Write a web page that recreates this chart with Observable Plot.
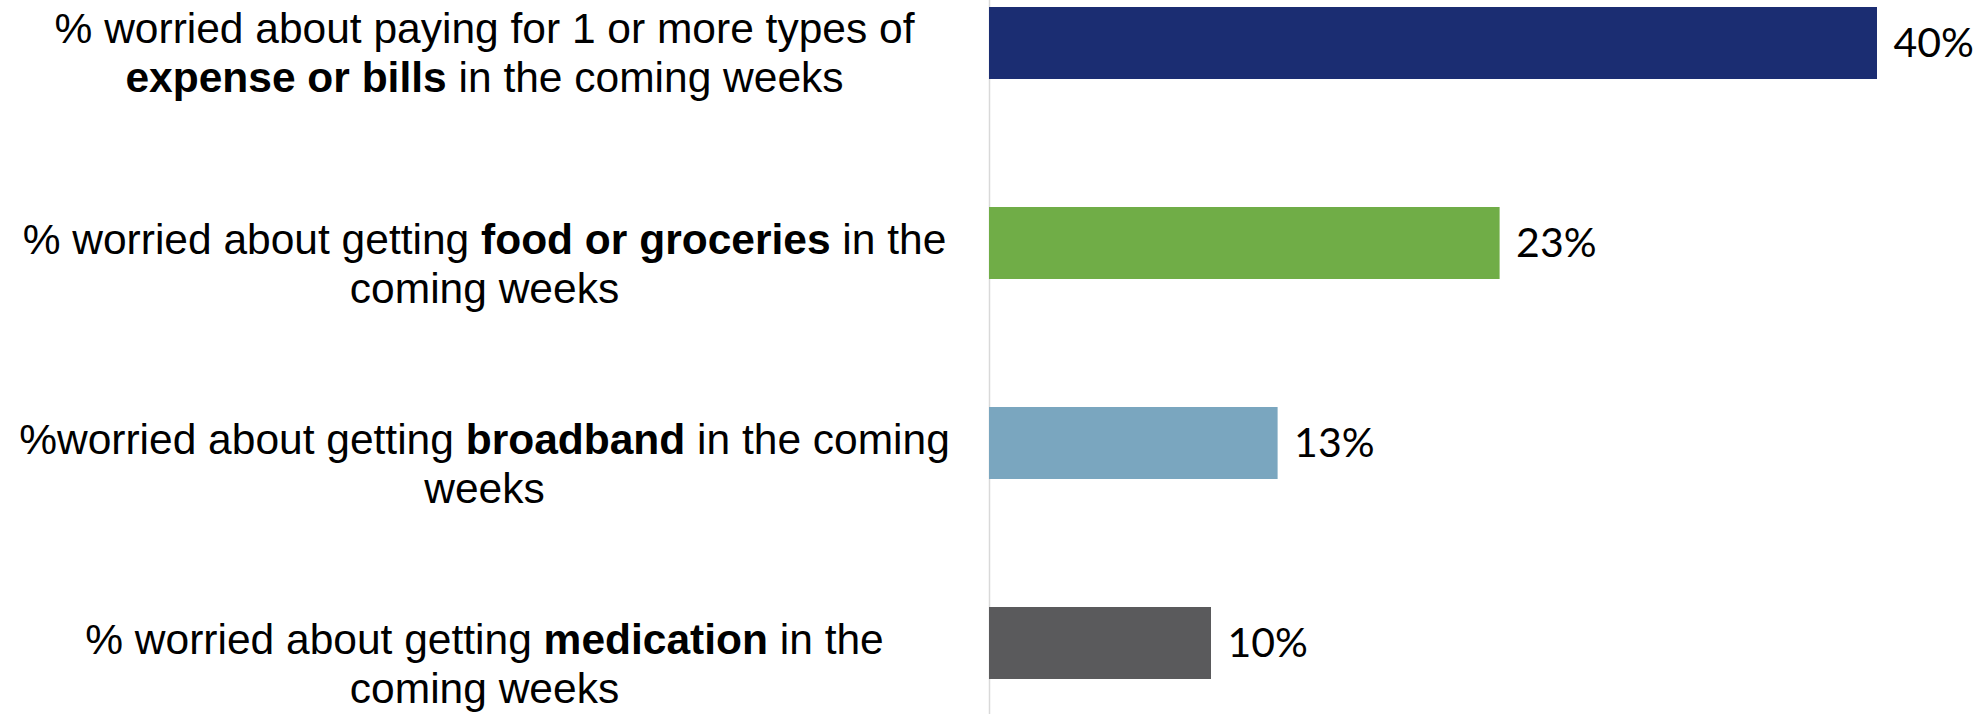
<!DOCTYPE html>
<html>
<head>
<meta charset="utf-8">
<script src="https://cdn.jsdelivr.net/npm/d3@7"></script>
<script src="https://cdn.jsdelivr.net/npm/@observablehq/plot@0.6"></script>
<style>
  html, body { margin: 0; padding: 0; background: #ffffff; }
  #chart svg { display: block; }
</style>
</head>
<body>
<div id="chart"></div>
<script>
// ---- data ----
const categories = ["expense or bills", "food or groceries", "broadband", "medication"];
const values = [40, 23, 13, 10];
const colors = ["#1b2d72", "#70ad47", "#7aa6bf", "#5a5a5c"];
const labelLines = [
  ["% worried about paying for 1 or more types of", "**expense or bills** in the coming weeks"],
  ["% worried about getting **food or groceries** in the", "coming weeks"],
  ["%worried about getting **broadband** in the coming", "weeks"],
  ["% worried about getting **medication** in the", "coming weeks"]
];

const bars = categories.map((c, i) => ({cat: c, value: values[i]}));
const lineRows = categories.flatMap((c, i) =>
  labelLines[i].map((t, k) => ({cat: c, line: k, raw: t, first: i === 0})));

const labelFont = "Liberation Sans, Arial, sans-serif";
const labelSize = 42.5;
const lineGap = 49;

function labelMark(filter, dy) {
  return Plot.text(lineRows.filter(filter), {
    y: "cat", text: "raw", frameAnchor: "left", dx: -505, dy,
    textAnchor: "middle", fontSize: labelSize, fontFamily: labelFont, fill: "#000"
  });
}

const chart = Plot.plot({
  width: 1980,
  height: 714,
  marginLeft: 989,
  marginRight: 103,
  marginTop: 6,
  marginBottom: 34.5,
  style: {background: "#ffffff", overflow: "visible"},
  x: {domain: [0, 40], axis: null},
  y: {domain: categories, axis: null, paddingInner: 0.64, paddingOuter: 0},
  color: {domain: categories, range: colors},
  marks: [
    Plot.ruleX([0], {stroke: "#d9d9d9", strokeWidth: 1.5, insetTop: -6, insetBottom: -36}),
    Plot.barX(bars, {x: "value", y: "cat", fill: "cat"}),
    Plot.text(bars, {
      x: "value", y: "cat", text: d => d.value + "%", textAnchor: "start", dx: 16,
      fontSize: 41, fontFamily: "Lato, sans-serif", fill: "#000"
    }),
    labelMark(d => d.first && d.line === 0, -14),
    labelMark(d => d.first && d.line === 1, -14 + lineGap),
    labelMark(d => !d.first && d.line === 0, -3),
    labelMark(d => !d.first && d.line === 1, -3 + lineGap)
  ]
});

// rich text: **bold** segments -> tspans
d3.select(chart).selectAll("text").each(function () {
  const s = this.textContent;
  if (!s.includes("**")) return;
  const parts = s.split(/(\*\*[^*]+\*\*)/).filter(p => p.length);
  const el = d3.select(this);
  el.text(null).style("white-space", "pre");
  for (const p of parts) {
    const bold = p.startsWith("**");
    el.append("tspan")
      .attr("font-weight", bold ? "bold" : null)
      .text(bold ? p.slice(2, -2) : p);
  }
});

document.getElementById("chart").appendChild(chart);
</script>
</body>
</html>
